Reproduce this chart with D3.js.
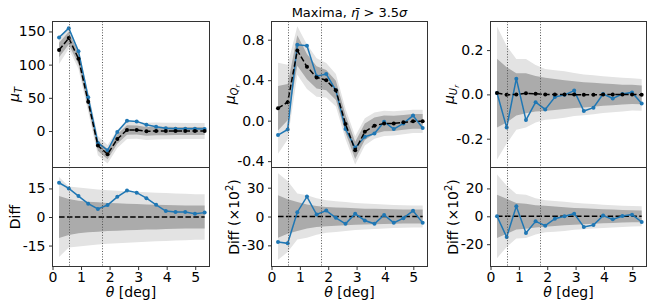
<!DOCTYPE html>
<html>
<head>
<meta charset="utf-8">
<script src="https://cdn.jsdelivr.net/npm/d3@7"></script>
<style>
  body { margin: 0; background: #fff; }
  svg { display: block; font-family: "DejaVu Sans", sans-serif; }
</style>
</head>
<body>
<div id="chart"></div>
<script>
// theta bin centres [deg]
const theta = [0.23, 0.57, 0.91, 1.25, 1.59, 1.93, 2.27, 2.61, 2.95, 3.29, 3.63, 3.97, 4.31, 4.65, 4.99, 5.33];
const vlines = [0.58, 1.73];

// mu_T
const blueT = [141, 155, 120, 51, -18, -29, -1.5, 15.5, 14.5, 9.5, 6.5, 4, 3.5, 3.5, 3.5, 3];
const blackT = [122, 140, 109, 44, -22, -35, -12, 1.5, 1.5, -0.5, 0, 0, 0, 0, 0, 0];
const diffT = [18, 15, 11, 7, 4.2, 6.3, 10.6, 13.9, 12.8, 9.9, 6.4, 3.1, 2.6, 2.6, 1.7, 2.3];
const sig1T = [11, 9.5, 8.5, 8, 7.7, 7.4, 7.2, 7, 6.8, 6.6, 6.5, 6.3, 6.2, 6.1, 6, 6];
const sig2T = [21, 16, 15.5, 15, 14.5, 14, 13.8, 13.5, 13.3, 13, 12.8, 12.6, 12.4, 12.2, 12, 12];

// mu_Qr
const blueQ = [-0.143, -0.087, 0.75, 0.74, 0.44, 0.46, 0.30, -0.083, -0.267, -0.16, -0.127, -0.01, -0.083, -0.027, 0.05, -0.073];
const blackQ = [0.123, 0.183, 0.693, 0.533, 0.427, 0.40, 0.30, -0.033, -0.293, -0.11, -0.05, -0.027, -0.027, -0.017, -0.007, -0.007];
const diffQ = [-26.5, -27.9, 4.5, 20.7, 2.1, 6.2, -1.4, -7.6, 2.8, -4.1, -7.6, 1.7, -6.6, -1.7, 5.9, -6.6];
const sig1Q = [22, 18, 15, 12.5, 11, 10, 9.5, 9, 8.5, 8.2, 8, 7.8, 7.5, 7.3, 7.2, 7.2];
const sig2Q = [45, 37, 24, 22, 19, 17, 16, 15, 14, 13.5, 13, 12.5, 12, 11.8, 11.5, 11.5];

// mu_Ur
const blueU = [0.006, -0.15, 0.071, -0.116, -0.035, -0.068, -0.012, -0.002, 0.017, -0.075, -0.06, 0.002, -0.018, 0.002, 0.009, -0.041];
const blackU = [0.006, -0.002, 0, 0.005, 0.003, 0, -0.001, -0.001, -0.001, -0.002, -0.002, -0.001, -0.001, -0.001, 0, -0.002];
const diffU = [0, -14.9, 7.2, -12, -3.6, -6.7, -1.7, 0, 1.9, -7.7, -6.3, 0.5, -2.2, 0.2, 1.2, -4.1];
const sig1U = [15.5, 12.5, 9.5, 9, 8, 7.5, 7, 6.5, 6, 5.7, 5.4, 5, 4.8, 4.5, 4.3, 4.2];
const sig2U = [30, 22, 16, 15.5, 13, 11.5, 11, 10.5, 9.7, 9.2, 8.8, 8.3, 8, 7.6, 7.3, 7.2];

const xTicks = [0, 1, 2, 3, 4, 5];

const panels = [
  {left: 52.5, right: 209.5, blue: blueT, black: blackT, diff: diffT, s1: sig1T, s2: sig2T, scale: 1,
   top: [-55, 165], topTicks: [0, 50, 100, 150], topFmt: d3.format('d'),
   bot: [-26, 26], botTicks: [-15, 0, 15], label: 'T', sub2: null, diffLabel: 'Diff', ylx: 14, dlx: 15},
  {left: 271.5, right: 427.5, blue: blueQ, black: blackQ, diff: diffQ, s1: sig1Q, s2: sig2Q, scale: 0.01,
   top: [-0.463, 0.98], topTicks: [-0.4, 0, 0.4, 0.8], topFmt: d3.format('.1f'),
   bot: [-52, 51], botTicks: [-30, 0, 30], label: 'Q', sub2: 'r', diffLabel: 'x', ylx: 230, dlx: 234},
  {left: 490.5, right: 646.5, blue: blueU, black: blackU, diff: diffU, s1: sig1U, s2: sig2U, scale: 0.01,
   top: [-0.33, 0.329], topTicks: [-0.2, 0, 0.2], topFmt: d3.format('.1f'),
   bot: [-36, 35], botTicks: [-20, 0, 20], label: 'U', sub2: 'r', diffLabel: 'x', ylx: 449, dlx: 453}
];

const W = 655, H = 308;
const yTop = 21.5, yMid = 167.5, yBot = 266.5;
const blue = '#1f77b4', lightBand = '#e3e3e3', darkBand = '#ababab', spine = '#333';

const svg = d3.select('#chart').append('svg')
  .attr('width', W).attr('height', H);

const fmtMinus = (f) => (v) => f(v).replace('\u2212', '-');

panels.forEach((p) => {
  const x = d3.scaleLinear().domain([0, 5.5]).range([p.left, p.right]);
  const yT = d3.scaleLinear().domain(p.top).range([yMid, yTop]);
  const yB = d3.scaleLinear().domain(p.bot).range([yBot, yMid]);
  const idx = d3.range(theta.length);

  const clipT = 'clipT' + p.label, clipB = 'clipB' + p.label;
  svg.append('clipPath').attr('id', clipT).append('rect')
    .attr('x', p.left).attr('y', yTop).attr('width', p.right - p.left).attr('height', yMid - yTop);
  svg.append('clipPath').attr('id', clipB).append('rect')
    .attr('x', p.left).attr('y', yMid).attr('width', p.right - p.left).attr('height', yBot - yMid);

  // ---- top panel
  const gT = svg.append('g').attr('clip-path', `url(#${clipT})`);
  [[p.s2, lightBand], [p.s1, darkBand]].forEach(([s, c]) => {
    const area = d3.area()
      .x((i) => x(theta[i]))
      .y0((i) => yT(p.black[i] - s[i] * p.scale))
      .y1((i) => yT(p.black[i] + s[i] * p.scale));
    gT.append('path').attr('d', area(idx)).attr('fill', c);
  });

  // ---- bottom panel
  const gB = svg.append('g').attr('clip-path', `url(#${clipB})`);
  [[p.s2, lightBand], [p.s1, darkBand]].forEach(([s, c]) => {
    const area = d3.area()
      .x((i) => x(theta[i]))
      .y0((i) => yB(-s[i]))
      .y1((i) => yB(s[i]));
    gB.append('path').attr('d', area(idx)).attr('fill', c);
  });

  // dotted vertical lines
  vlines.forEach((v) => {
    svg.append('line')
      .attr('x1', Math.round(x(v)) + 0.5).attr('x2', Math.round(x(v)) + 0.5)
      .attr('y1', yTop).attr('y2', yBot)
      .attr('stroke', '#555').attr('stroke-width', 1)
      .attr('stroke-dasharray', '1,1.7');
  });

  // top lines
  const lineT = (arr) => d3.line().x((i) => x(theta[i])).y((i) => yT(arr[i]));
  gT.append('path').attr('d', lineT(p.blue)(idx))
    .attr('fill', 'none').attr('stroke', blue).attr('stroke-width', 1.5);
  gT.selectAll('circle.b').data(idx).enter().append('circle')
    .attr('cx', (i) => x(theta[i])).attr('cy', (i) => yT(p.blue[i])).attr('r', 2)
    .attr('fill', blue);
  gT.append('path').attr('d', lineT(p.black)(idx))
    .attr('fill', 'none').attr('stroke', '#000').attr('stroke-width', 1.5)
    .attr('stroke-dasharray', '5.5,2.4');
  gT.selectAll('circle.k').data(idx).enter().append('circle')
    .attr('cx', (i) => x(theta[i])).attr('cy', (i) => yT(p.black[i])).attr('r', 2)
    .attr('fill', '#000');

  // bottom lines
  gB.append('line')
    .attr('x1', x(theta[0])).attr('x2', x(theta[theta.length - 1]))
    .attr('y1', yB(0)).attr('y2', yB(0))
    .attr('stroke', '#000').attr('stroke-width', 1.5).attr('stroke-dasharray', '5.5,2.4');
  gB.append('path').attr('d', d3.line().x((i) => x(theta[i])).y((i) => yB(p.diff[i]))(idx))
    .attr('fill', 'none').attr('stroke', blue).attr('stroke-width', 1.5);
  gB.selectAll('circle').data(idx).enter().append('circle')
    .attr('cx', (i) => x(theta[i])).attr('cy', (i) => yB(p.diff[i])).attr('r', 2)
    .attr('fill', blue);

  // axes
  const axT = svg.append('g').attr('transform', `translate(${p.left},0)`)
    .call(d3.axisLeft(yT).tickValues(p.topTicks).tickFormat(fmtMinus(p.topFmt)).tickSize(3.5).tickPadding(3.5));
  const axB = svg.append('g').attr('transform', `translate(${p.left},0)`)
    .call(d3.axisLeft(yB).tickValues(p.botTicks).tickFormat(fmtMinus(d3.format('d'))).tickSize(3.5).tickPadding(3.5));
  const axX = svg.append('g').attr('transform', `translate(0,${yBot})`)
    .call(d3.axisBottom(x).tickValues(xTicks).tickFormat(d3.format('d')).tickSize(3.5).tickPadding(2.5));
  [axT, axB, axX].forEach((a) => {
    a.select('.domain').remove();
    a.selectAll('line').attr('stroke', spine);
    a.selectAll('text').attr('font-size', 14).attr('fill', '#000')
      .attr('font-family', '"DejaVu Sans", sans-serif');
  });

  // spines
  [[yTop, yMid], [yMid, yBot]].forEach(([a, b]) => {
    svg.append('rect').attr('x', p.left).attr('y', a)
      .attr('width', p.right - p.left).attr('height', b - a)
      .attr('fill', 'none').attr('stroke', spine).attr('stroke-width', 1);
  });

  // x label
  const xl = svg.append('text').attr('x', (p.left + p.right) / 2).attr('y', 297)
    .attr('text-anchor', 'middle').attr('font-size', 14);
  xl.append('tspan').attr('font-style', 'italic').text('\u03b8');
  xl.append('tspan').text(' [deg]');

  // y label top
  const yl = svg.append('text')
    .attr('transform', `translate(${p.ylx},${(yTop + yMid) / 2}) rotate(-90)`)
    .attr('text-anchor', 'middle').attr('font-size', 14).attr('dy', '0.35em');
  yl.append('tspan').attr('font-style', 'italic').text('\u03bc');
  yl.append('tspan').attr('font-style', 'italic').attr('font-size', 10).attr('dy', 3).text(p.label);
  if (p.sub2) {
    yl.append('tspan').attr('font-style', 'italic').attr('font-size', 7).attr('dy', 2).text(p.sub2);
  }

  // y label bottom
  const dl = svg.append('text')
    .attr('transform', `translate(${p.dlx},${(yMid + yBot) / 2}) rotate(-90)`)
    .attr('text-anchor', 'middle').attr('font-size', 14).attr('dy', '0.35em');
  if (p.diffLabel === 'Diff') {
    dl.text('Diff');
  } else {
    dl.append('tspan').text('Diff (\u00d710');
    dl.append('tspan').attr('font-size', 10).attr('dy', -6).text('2');
    dl.append('tspan').attr('dy', 6).text(')');
  }
});

// title
const title = svg.append('text').attr('x', (panels[1].left + panels[1].right) / 2).attr('y', 17)
  .attr('text-anchor', 'middle').attr('font-size', 13);
title.append('tspan').text('Maxima, ');
title.append('tspan').attr('font-style', 'italic').text('\u03b7\u0304');
title.append('tspan').text(' > 3.5');
title.append('tspan').attr('font-style', 'italic').text('\u03c3');
</script>
</body>
</html>
